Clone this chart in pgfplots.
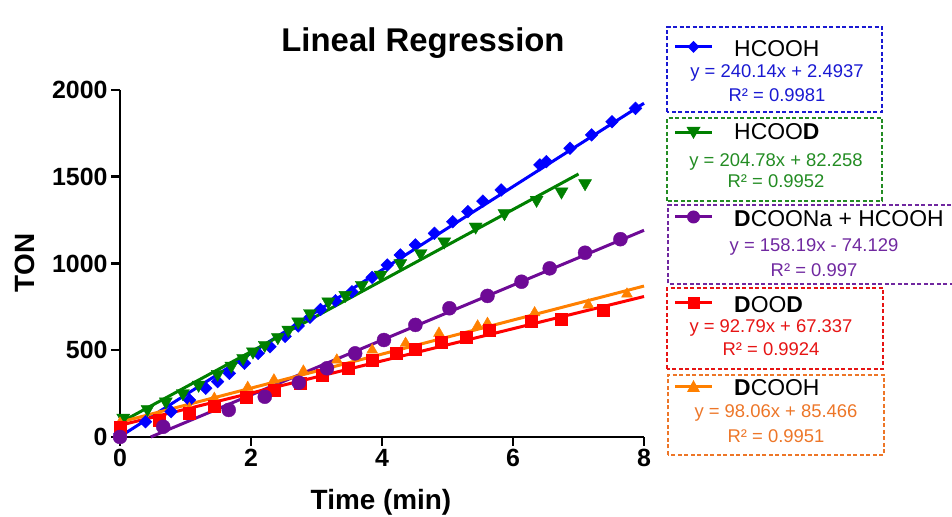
\documentclass[border=0pt]{standalone}
\usepackage{fontspec}
\setmainfont{Liberation Sans}
\usepackage{pgfplots}
\pgfplotsset{compat=1.18}
\definecolor{cblue}{RGB}{0,0,255}
\definecolor{cgreen}{RGB}{0,128,0}
\definecolor{cpurple}{RGB}{110,10,150}
\definecolor{cred}{RGB}{255,0,0}
\definecolor{corange}{RGB}{255,128,0}
\definecolor{tblue}{RGB}{25,25,210}
\definecolor{tgreen}{RGB}{35,140,35}
\definecolor{tpurple}{RGB}{112,40,160}
\definecolor{tred}{RGB}{230,20,20}
\definecolor{torange}{RGB}{237,118,40}
\begin{document}
\begin{tikzpicture}[x=1bp,y=1bp]
\useasboundingbox (0,0) rectangle (952,517);
\begin{axis}[at={(120bp,80bp)}, anchor=south west,
  width=524bp, height=347bp, scale only axis,
  xmin=0, xmax=8, ymin=0, ymax=2000,
  axis x line*=bottom, axis y line*=left,
  axis line style={line width=2.5bp, black},
  xtick={0,2,4,6,8}, ytick={0,500,1000,1500,2000},
  tick align=outside, major tick length=9bp,
  every tick/.style={black, line width=2.5bp},
  ticklabel style={font=\fontsize{25}{25}\selectfont\bfseries},
  /pgf/number format/assume math mode=true,
  /pgf/number format/1000 sep={},
  clip=false]
% HCOOH
\addplot[only marks, mark=square*, mark size=4.5bp, mark options={rotate=45, fill=cblue, draw=cblue}] coordinates {
(0,20) (0.39,88) (0.78,146) (1.06,213) (1.31,281) (1.49,319) (1.67,367) (1.90,425)
(2.11,482) (2.29,520) (2.52,580) (2.72,640) (2.90,690) (3.06,735) (3.29,785) (3.54,837)
(3.85,920) (4.08,991) (4.28,1049) (4.51,1107) (4.80,1174) (5.08,1241) (5.31,1299)
(5.54,1360) (5.82,1424) (6.41,1568) (6.51,1587) (6.87,1664) (7.20,1741) (7.51,1817) (7.87,1894)};
% HCOOD
\addplot[only marks, mark=triangle*, mark size=7.5bp, mark options={rotate=180, fill=cgreen, draw=cgreen}] coordinates {
(0.05,110) (0.42,160) (0.70,204) (0.96,252) (1.20,300) (1.49,363) (1.70,410) (1.88,454)
(2.03,492) (2.21,530) (2.41,575) (2.57,617) (2.72,665) (2.90,713) (3.18,780) (3.44,818)
(3.69,876) (3.98,934) (4.28,1001) (4.59,1059) (4.95,1126) (5.43,1212) (5.87,1289)
(6.36,1366) (6.74,1414) (7.10,1462)};
% DCOOH
\addplot[only marks, mark=triangle*, mark size=6.3bp, mark options={fill=corange, draw=corange}] coordinates {
(0,80) (0.60,120) (1.06,165) (1.44,223) (1.95,286) (2.35,329) (2.80,380) (3.31,444)
(3.85,501) (4.36,540) (4.87,598) (5.46,640) (5.61,655) (6.33,716) (7.15,761) (7.74,824)};
% DOOD
\addplot[only marks, mark=square*, mark size=6bp, mark options={fill=cred, draw=cred}] coordinates {
(0,59) (0.60,98) (1.06,136) (1.44,175) (1.93,227) (2.36,271) (2.75,309) (3.08,357)
(3.49,396) (3.85,444) (4.21,482) (4.51,505) (4.90,549) (5.28,578) (5.64,617) (6.28,665)
(6.74,678) (7.38,732)};
% DCOONa + HCOOH
\addplot[only marks, mark=*, mark size=7bp, mark options={fill=cpurple, draw=cpurple}] coordinates {
(0,0) (0.66,59) (1.66,156) (2.21,232) (2.73,313) (3.16,396) (3.59,482) (4.03,559)
(4.51,646) (5.03,742) (5.61,813) (6.13,895) (6.56,972) (7.10,1062) (7.64,1140)};
% regression lines
\addplot[cblue, line width=3bp, no marks] coordinates {(0,2.49) (8,1923.6)};
\addplot[cgreen, line width=3bp, no marks] coordinates {(0,82.26) (7.0,1515.7)};
\addplot[cpurple, line width=3bp, no marks] coordinates {(0.469,0) (8,1191.4)};
\addplot[corange, line width=3bp, no marks] coordinates {(0,85.47) (8,869.95)};
\addplot[cred, line width=3bp, no marks] coordinates {(0,67.34) (8,809.66)};
\end{axis}
% titles
\node[anchor=base, inner sep=0, font=\fontsize{33}{33}\selectfont\bfseries] at (423,465) {Lineal Regression};
\node[anchor=base, inner sep=0, font=\fontsize{28}{28}\selectfont\bfseries] at (381,7) {Time (min)};
\node[rotate=90, inner sep=0, font=\fontsize{28}{28}\selectfont\bfseries] at (25,254) {TON};
% legend boxes
\tikzset{lb/.style={line width=1.6bp, dash pattern=on 4bp off 2.5bp},
  nm/.style={anchor=base west, inner sep=0, font=\fontsize{23}{23}\selectfont},
  eq/.style={anchor=base, inner sep=0, font=\fontsize{18.5}{18.5}\selectfont}}
% box 1
\draw[lb, tblue] (667,405) rectangle (882,490);
\draw[cblue, line width=3bp] (675,470) -- (712,470);
\fill[cblue] (693.5,476) -- (699.5,470) -- (693.5,464) -- (687.5,470) -- cycle;
\node[nm] at (734,460) {HCOOH};
\node[eq, text=tblue] at (777,439) {y = 240.14x + 2.4937};
\node[eq, text=tblue] at (777,415) {R² = 0.9981};
% box 2
\draw[lb, tgreen] (667,316) rectangle (882,399);
\draw[cgreen, line width=3bp] (675,384) -- (712,384);
\fill[cgreen] (693.5,378) -- (700.5,390) -- (686.5,390) -- cycle;
\node[nm] at (734,377) {HCOO\textbf{D}};
\node[eq, text=tgreen] at (776,350) {y = 204.78x + 82.258};
\node[eq, text=tgreen] at (776,329) {R² = 0.9952};
% box 3
\draw[lb, tpurple] (960,233) -- (668,233) -- (668,312) -- (960,312);
\draw[cpurple, line width=3bp] (675,300) -- (712,300);
\fill[cpurple] (693.5,300) circle (6.5);
\node[nm] at (734,290) {\textbf{D}COONa + HCOOH};
\node[eq, text=tpurple] at (814,265) {y = 158.19x - 74.129};
\node[eq, text=tpurple] at (814,240) {R² = 0.997};
% box 4
\draw[lb, tred] (667,148) rectangle (883,229);
\draw[cred, line width=3bp] (675,214) -- (712,214);
\fill[cred] (687.5,208) rectangle (699.5,220);
\node[nm] at (734,204) {\textbf{D}OO\textbf{D}};
\node[eq, text=tred] at (771,184) {y = 92.79x + 67.337};
\node[eq, text=tred] at (771,161) {R² = 0.9924};
% box 5
\draw[lb, torange] (668,62) rectangle (884,142);
\draw[corange, line width=3bp] (675,130) -- (712,130);
\fill[corange] (693.5,137) -- (700,125) -- (687,125) -- cycle;
\node[nm] at (734,121) {\textbf{D}COOH};
\node[eq, text=torange] at (776,99) {y = 98.06x + 85.466};
\node[eq, text=torange] at (776,74) {R² = 0.9951};
\end{tikzpicture}
\end{document}
